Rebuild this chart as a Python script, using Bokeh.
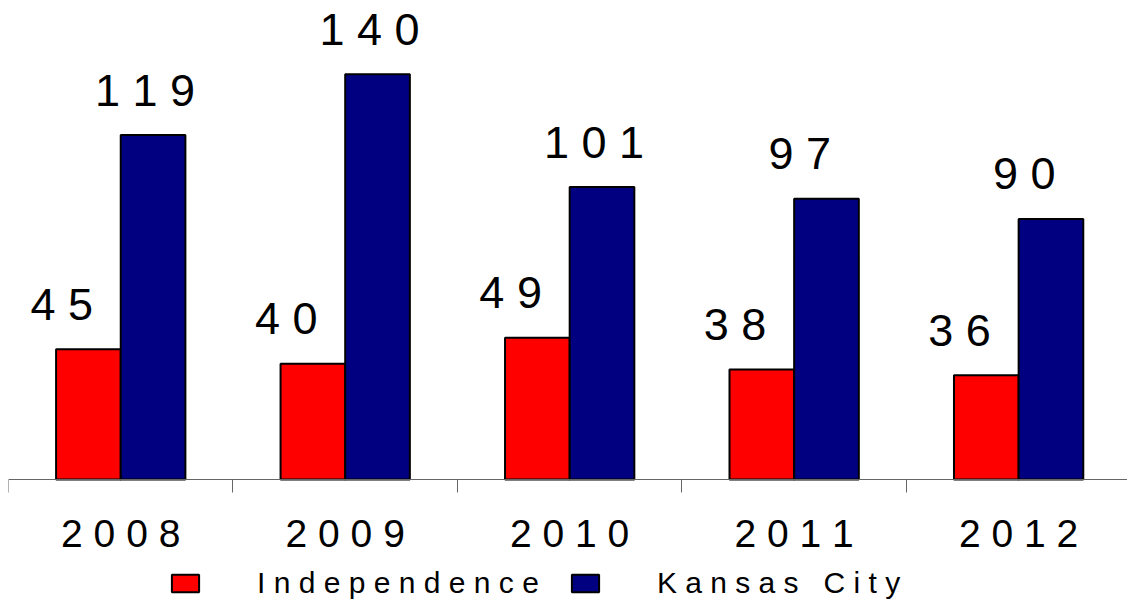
from bokeh.plotting import figure
from bokeh.models import Range1d, FixedTicker, Legend, LegendItem, ColumnDataSource
from bokeh.core.properties import value
from bokeh.embed import file_html
from bokeh.resources import INLINE

# ---- data ----
years = ["2008", "2009", "2010", "2011", "2012"]
independence = [45, 40, 49, 38, 36]
kansas_city = [119, 140, 101, 97, 90]
series_names = ["I n d e p e n d e n c e", "K a n s a s   C i t y"]

FONT = "Liberation Sans"
RED = "#FF0000"
BLUE = "#000080"

idx = list(range(len(years)))
off = 0.144
bw = 0.288
x_ind = [i + 0.5 - off for i in idx]
x_kc = [i + 0.5 + off for i in idx]

src_ind = ColumnDataSource(dict(x=x_ind, top=independence,
                                lab=[" ".join(str(v)) for v in independence]))
src_kc = ColumnDataSource(dict(x=x_kc, top=kansas_city,
                               lab=[" ".join(str(v)) for v in kansas_city]))

p = figure(frame_width=1119, frame_height=592, output_backend="svg", toolbar_location=None,
           x_range=Range1d(0, 4.985), y_range=Range1d(-41.8, 162.7),
           y_axis_location=None,
           min_border_left=8, min_border_right=0, min_border_top=8, min_border_bottom=0)
p.outline_line_color = None
p.grid.visible = False
p.background_fill_color = "white"
p.border_fill_color = "white"

r1 = p.vbar(x="x", top="top", bottom=0, width=bw, source=src_ind,
            fill_color=RED, line_color="black", line_width=2)
r2 = p.vbar(x="x", top="top", bottom=0, width=bw, source=src_kc,
            fill_color=BLUE, line_color="black", line_width=2)

for s in (src_ind, src_kc):
    p.text(x="x", y="top", text="lab", source=s,
           text_font=value(FONT), text_font_size="45px", text_color="black",
           text_align="left", text_baseline="alphabetic",
           x_offset=-58, y_offset=-45)

ax = p.xaxis[0]
ax.fixed_location = 0
ax.ticker = FixedTicker(ticks=[i + 0.5 for i in idx],
                        minor_ticks=[float(i) for i in range(len(years) + 1)])
ax.major_label_overrides = {i + 0.5: " ".join(y) for i, y in zip(idx, years)}
ax.major_tick_line_color = None
ax.major_tick_out = 13
ax.major_tick_in = 0
ax.minor_tick_out = 13
ax.minor_tick_in = 0
ax.minor_tick_line_color = "#666666"
ax.axis_line_color = "#666666"
ax.axis_line_width = 1
ax.major_label_text_font = FONT
ax.major_label_text_font_size = "39px"
ax.major_label_text_color = "black"
ax.major_label_standoff = 20

legend = Legend(items=[LegendItem(label=series_names[0], renderers=[r1]),
                       LegendItem(label=series_names[1], renderers=[r2])],
                orientation="horizontal", location=(160, 0),
                glyph_width=34, glyph_height=22, label_standoff=55, spacing=29,
                padding=0, margin=0, border_line_color=None,
                background_fill_alpha=0, label_height=22,
                label_text_font=FONT, label_text_font_size="30px",
                label_text_color="black")
p.add_layout(legend)

open("out.html", "w").write(file_html(p, INLINE))
